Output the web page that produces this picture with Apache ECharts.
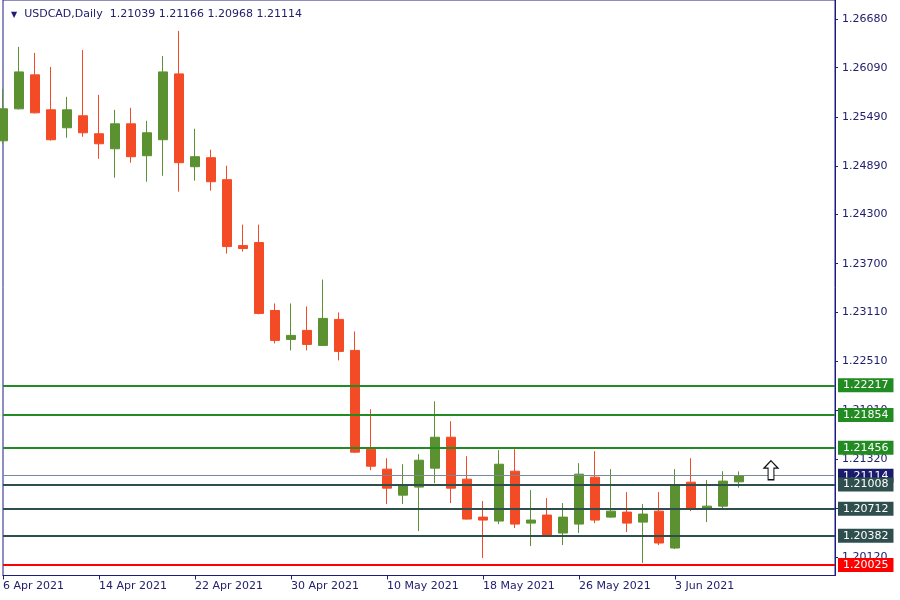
<!DOCTYPE html>
<html><head><meta charset="utf-8">
<script src="https://cdn.jsdelivr.net/npm/echarts@6/dist/echarts.min.js"></script>
<style>html,body{margin:0;padding:0;background:#fff}#c{width:900px;height:600px}</style>
</head><body><div id="c"></div>
<script>
// ---- data ----
const dates = [
 '6 Apr 2021','7 Apr 2021','8 Apr 2021','9 Apr 2021','12 Apr 2021','13 Apr 2021','14 Apr 2021','15 Apr 2021','16 Apr 2021',
 '19 Apr 2021','20 Apr 2021','21 Apr 2021','22 Apr 2021','23 Apr 2021','26 Apr 2021','27 Apr 2021','28 Apr 2021','29 Apr 2021','30 Apr 2021',
 '3 May 2021','4 May 2021','5 May 2021','6 May 2021','7 May 2021','10 May 2021','11 May 2021','12 May 2021','13 May 2021','14 May 2021',
 '17 May 2021','18 May 2021','19 May 2021','20 May 2021','21 May 2021','24 May 2021','25 May 2021','26 May 2021','27 May 2021','28 May 2021',
 '31 May 2021','1 Jun 2021','2 Jun 2021','3 Jun 2021','4 Jun 2021','7 Jun 2021','8 Jun 2021','9 Jun 2021'];
const opens  = [1.25198,1.25588,1.26002,1.25576,1.25357,1.25503,1.25284,1.25101,1.25405,1.25016,1.25211,1.26014,1.24882,1.24992,1.24724,1.23920,1.23957,1.23129,1.22776,1.22886,1.22703,1.23020,1.22642,1.21437,1.21194,1.20877,1.20975,1.21206,1.21583,1.21072,1.20609,1.20561,1.21169,1.20536,1.20634,1.20415,1.20524,1.21096,1.20609,1.20670,1.20548,1.20682,1.20232,1.21035,1.20719,1.20743,1.21039];
const highs  = [1.25831,1.26343,1.26270,1.26099,1.25734,1.26306,1.25758,1.25576,1.25600,1.25442,1.26233,1.26538,1.25345,1.25089,1.24894,1.24176,1.24176,1.23214,1.23214,1.23178,1.23506,1.23105,1.22873,1.21924,1.21327,1.21254,1.21376,1.22021,1.21778,1.21352,1.20804,1.21425,1.21437,1.20938,1.20841,1.20780,1.21267,1.21413,1.21194,1.20914,1.20768,1.20914,1.21194,1.21327,1.21060,1.21169,1.21166];
const lows   = [1.25162,1.25580,1.25530,1.25200,1.25235,1.25247,1.24979,1.24748,1.24931,1.24699,1.24772,1.24578,1.24712,1.24590,1.23823,1.23847,1.23081,1.22727,1.22642,1.22642,1.22700,1.22520,1.21390,1.21181,1.20768,1.20768,1.20439,1.21023,1.20780,1.20580,1.20110,1.20524,1.20475,1.20256,1.20370,1.20268,1.20415,1.20536,1.20600,1.20427,1.20050,1.20268,1.20220,1.20682,1.20548,1.20695,1.20968];
const closes = [1.25588,1.26038,1.25539,1.25211,1.25576,1.25296,1.25162,1.25405,1.25004,1.25296,1.26038,1.24931,1.25004,1.24699,1.23908,1.23884,1.23093,1.22764,1.22825,1.22715,1.23032,1.22630,1.21401,1.21230,1.20962,1.20987,1.21303,1.21583,1.20962,1.20585,1.20573,1.21254,1.20524,1.20573,1.20378,1.20609,1.21133,1.20573,1.20682,1.20536,1.20646,1.20293,1.20999,1.20719,1.20743,1.21048,1.21114];
const futureSlots = 6;
const yTicks = [1.26680,1.26090,1.25490,1.24890,1.24300,1.23700,1.23110,1.22510,1.21910,1.21320,1.20720,1.20120];
const levels = [1.22217,1.21854,1.21456,1.21008,1.20712,1.20382,1.20025];
const lastPrice = 1.21114;
const signalIndex = 48, signalPrice = 1.21181;
const symbolName = 'USDCAD,Daily';

// ---- styles ----
const levelColors = ['#228B22','#228B22','#228B22','#2F4F4F','#2F4F4F','#2F4F4F','#FF0000'];
const NAVY = '#1C1C80', TXT = '#22206E', FONT = 'DejaVu Sans';
const BULL = '#5B9130', BEAR = '#F24B26';

const categories = dates.concat(Array(futureSlots).fill(''));
const candleData = opens.map((o, i) => [o, closes[i], lows[i], highs[i]]);
const showIdx = (i, v) => i % 6 === 0 && v !== '';

const mlData = [{
  yAxis: lastPrice,
  lineStyle: {color: '#778899', width: 1, type: 'solid'},
  label: {backgroundColor: '#1B1B6E'}
}].concat(levels.map((v, i) => ({
  yAxis: v,
  lineStyle: {color: levelColors[i], width: 2, type: 'solid'},
  label: {backgroundColor: levelColors[i]}
})));

const chart = echarts.init(document.getElementById('c'), null, {renderer: 'canvas'});
chart.setOption({
  animation: false,
  backgroundColor: '#fff',
  title: {
    left: 6, top: 4,
    text: '{t|▼}  ' + symbolName + '  ' + [opens[46], highs[46], lows[46], closes[46]].map(v => v.toFixed(5)).join(' '),
    textStyle: {fontSize: 11, fontWeight: 'normal', color: TXT, fontFamily: FONT,
      rich: {t: {fontSize: 8, color: TXT, fontFamily: FONT}}}
  },
  grid: {left: 3, right: 65, top: -1, bottom: 24.5, show: true, borderColor: NAVY, borderWidth: 1, backgroundColor: '#fff'},
  xAxis: {
    type: 'category', data: categories, boundaryGap: false,
    axisLine: {show: true, onZero: false, lineStyle: {color: NAVY, width: 1}},
    axisTick: {show: true, interval: showIdx, length: 4, lineStyle: {color: NAVY}},
    axisLabel: {interval: showIdx, align: 'left', margin: 5, color: TXT, fontFamily: FONT, fontSize: 11},
    splitLine: {show: false}
  },
  yAxis: {
    type: 'value', position: 'right', min: 1.19897, max: 1.26915, scale: true,
    axisLine: {show: true, onZero: false, lineStyle: {color: NAVY, width: 1}},
    axisTick: {show: true, customValues: yTicks, length: 3, lineStyle: {color: NAVY}},
    axisLabel: {customValues: yTicks, formatter: v => Number(v).toFixed(5), margin: 7, color: TXT, fontFamily: FONT, fontSize: 11},
    splitLine: {show: false}
  },
  series: [
    {
      type: 'line', data: [], z: 1, silent: true,
      markLine: {
        silent: true, symbol: ['none', 'none'], animation: false, precision: 5,
        label: {position: 'end', distance: 3, formatter: p => Number(p.value).toFixed(5),
          color: '#fff', fontFamily: FONT, fontSize: 11, padding: [1, 5, 1, 5], lineHeight: 12},
        data: mlData
      }
    },
    {
      type: 'candlestick', data: candleData, z: 3, clip: true, barWidth: 10, silent: true,
      itemStyle: {color: BULL, color0: BEAR, borderColor: BULL, borderColor0: BEAR, borderWidth: 1},
      markPoint: {
        silent: true,
        symbol: 'path://M6,0 L12,7 L8.5,7 L8.5,18 L3.5,18 L3.5,7 L0,7 Z',
        symbolSize: [14, 19],
        itemStyle: {color: '#fff', borderColor: '#111', borderWidth: 1.2},
        label: {show: false},
        data: [{coord: [signalIndex, signalPrice]}]
      }
    }
  ]
});
</script></body></html>
